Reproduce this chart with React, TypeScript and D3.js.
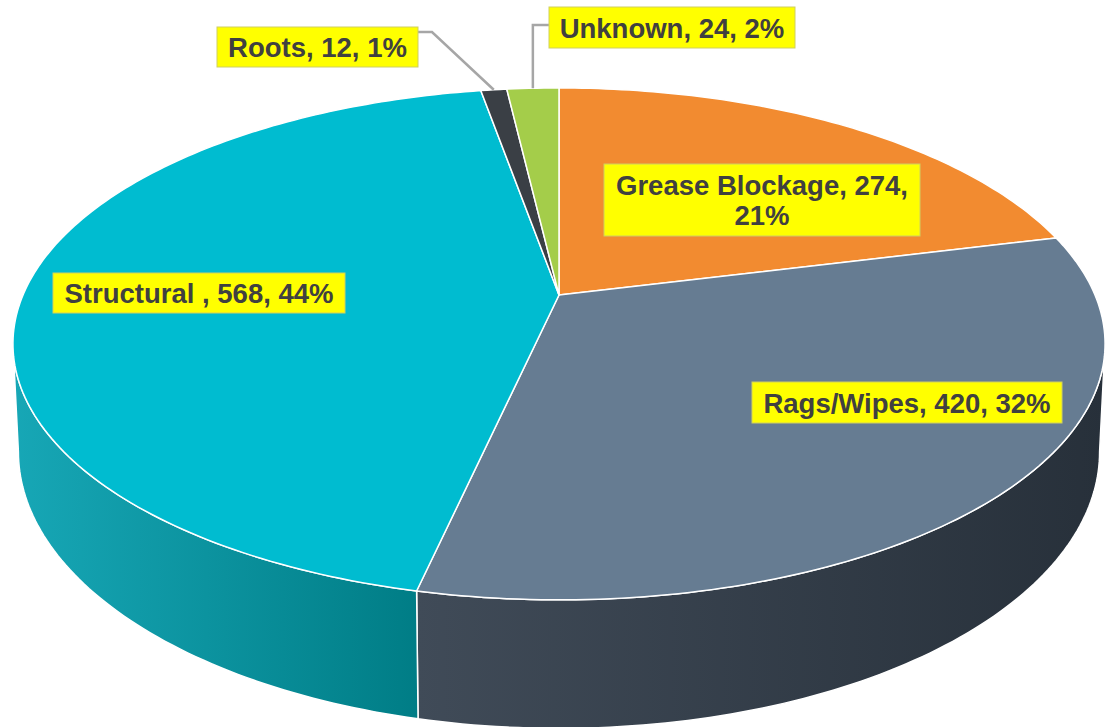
import React from "react";
import * as d3 from "d3";

const categories = ["Grease Blockage", "Rags/Wipes", "Structural ", "Roots", "Unknown"];
const values = [274, 420, 568, 12, 24];
const topColors = ["#F28B30", "#667C92", "#00BCD0", "#3A3F45", "#A4CD4A"];
const wallStops = [
  ["#c06a20", "#a0561a"],
  ["#404b58", "#27303a"],
  ["#17a7b6", "#007d86"],
  ["#2a2e33", "#1f2226"],
  ["#86ad35", "#6d8f2a"],
];

// label layout (box x, y, w, h, lines)
const labelLayout = [
  { x: 604, y: 164, w: 316, h: 72, split: true },
  { x: 752, y: 382, w: 310, h: 41, split: false },
  { x: 53, y: 273, w: 292, h: 40, split: false },
  { x: 217, y: 27, w: 201, h: 40, split: false, leader: "roots" },
  { x: 549, y: 7, w: 246, h: 41, split: false, leader: "unknown" },
];

const W = 1106, H = 727;
const X0 = 559, Y0 = 295, A = 536, B = 246.6, K = 0.191, HD = 104, S = 0.99;

function topPt(t: number): [number, number] {
  const w = 1 + K * Math.cos(t);
  return [X0 + (A * Math.sin(t)) / w, Y0 - (B * Math.cos(t)) / w];
}
function botPt(t: number): [number, number] {
  const w = 1 + K * Math.cos(t);
  return [X0 + (S * A * Math.sin(t)) / w, Y0 + (-B * Math.cos(t) + HD) / w];
}
function samples(a0: number, a1: number, f: (t: number) => [number, number]) {
  const n = Math.max(4, Math.ceil(((a1 - a0) * 180) / Math.PI));
  return d3.range(n + 1).map((i) => f(a0 + ((a1 - a0) * i) / n));
}

export default function App() {
  const total = d3.sum(values);
  const arcs = d3.pie<number>().sort(null)(values);
  const line = d3.line().curve(d3.curveLinear);
  const tL = Math.acos(-K);
  const tR = 2 * Math.PI - tL;

  const walls = arcs
    .map((a, i) => {
      const s0 = Math.max(a.startAngle, tL);
      const s1 = Math.min(a.endAngle, tR);
      if (s1 <= s0) return null;
      const top = samples(s0, s1, topPt);
      const bot = samples(s0, s1, botPt).reverse();
      const pts = [...top, ...bot];
      const xs = pts.map((p) => p[0]);
      return { i, d: line(pts) + "Z", x1: d3.min(xs)!, x2: d3.max(xs)! };
    })
    .filter(Boolean) as { i: number; d: string; x1: number; x2: number }[];

  const tops = arcs.map((a, i) => {
    const pts = [[X0, Y0] as [number, number], ...samples(a.startAngle, a.endAngle, topPt)];
    return { i, d: line(pts) + "Z" };
  });

  const font = "'Liberation Sans', Arial, sans-serif";

  return (
    <svg width={W} height={H} style={{ position: "absolute", left: 0, top: 0 }}>
      <defs>
        {walls.map((w) => (
          <linearGradient key={w.i} id={`wg${w.i}`} gradientUnits="userSpaceOnUse" x1={w.x1} x2={w.x2} y1={0} y2={0}>
            <stop offset="0" stopColor={wallStops[w.i][0]} />
            <stop offset="1" stopColor={wallStops[w.i][1]} />
          </linearGradient>
        ))}
      </defs>
      <rect width={W} height={H} fill="#fff" />
      {walls.map((w) => (
        <path key={w.i} d={w.d} fill={`url(#wg${w.i})`} stroke="#ffffff" strokeWidth={1.5} strokeLinejoin="round" />
      ))}
      {tops.map((t) => (
        <path key={t.i} d={t.d} fill={topColors[t.i]} stroke="#ffffff" strokeWidth={1.5} strokeLinejoin="round" />
      ))}
      {arcs.map((a, i) => {
        const L = labelLayout[i];
        if (!L.leader) return null;
        const mid = (a.startAngle + a.endAngle) / 2;
        const [px, py] = topPt(mid);
        let pts: [number, number][];
        if (L.leader === "roots") {
          const by = L.y + 5;
          pts = [[L.x + L.w, by], [L.x + L.w + 14, by], [px, py]];
        } else {
          const by = L.y + 18;
          pts = [[L.x, by], [px, by], [px, py]];
        }
        return <path key={"l" + i} d={line(pts)!} fill="none" stroke="#a6a6a6" strokeWidth={2.5} />;
      })}
      {arcs.map((a, i) => {
        const L = labelLayout[i];
        const pct = Math.round((values[i] / total) * 100);
        const cx = L.x + L.w / 2;
        const lines = L.split
          ? [`${categories[i]}, ${values[i]},`, `${pct}%`]
          : [`${categories[i]}, ${values[i]}, ${pct}%`];
        const lh = 30;
        const firstBase = L.y + L.h / 2 + 10 - ((lines.length - 1) * lh) / 2;
        return (
          <g key={"t" + i}>
            <rect x={L.x} y={L.y} width={L.w} height={L.h} fill="#FFFF00" stroke="#cfcf60" strokeWidth={1} />
            {lines.map((s, j) => (
              <text
                key={j}
                x={cx}
                y={firstBase + j * lh}
                textAnchor="middle"
                fontFamily={font}
                fontWeight="bold"
                fontSize={27.5}
                fill="#404040"
                style={{ whiteSpace: "pre" }}
              >
                {s}
              </text>
            ))}
          </g>
        );
      })}
    </svg>
  );
}
